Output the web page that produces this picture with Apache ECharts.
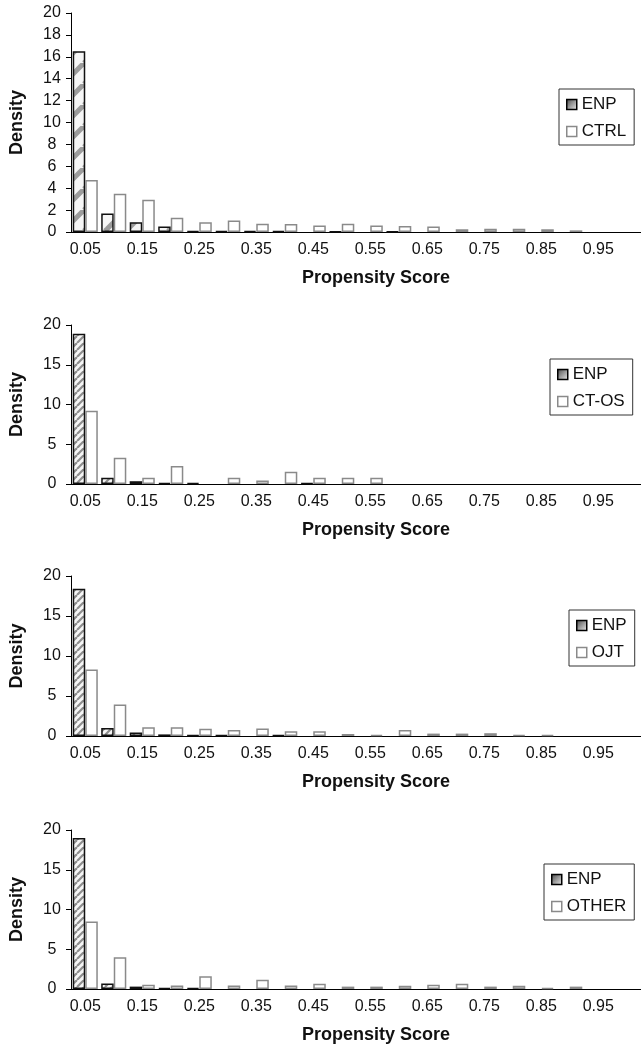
<!DOCTYPE html>
<html>
<head>
<meta charset="utf-8">
<script src="https://cdn.jsdelivr.net/npm/echarts@6/dist/echarts.min.js"></script>
<style>
    html, body { margin: 0; padding: 0; background: #fff; }
    #chart { width: 641px; height: 1046px; }
</style>
</head>
<body>
<div id="chart"></div>
<script>
// propensity score bins (only every other one gets a label)
const categories = ['0.05', '0.10', '0.15', '0.20', '0.25', '0.30', '0.35', '0.40', '0.45', '0.50',
    '0.55', '0.60', '0.65', '0.70', '0.75', '0.80', '0.85', '0.90', '0.95', '1.00']

// panel 1: ENP vs CTRL
const enpCtrl = [16.5, 1.7, 0.9, 0.5, 0.1, 0.1, 0.1, 0.1, 0, 0.05, 0, 0.05, 0, 0, 0, 0, 0, 0, 0, 0]
const ctrl = [4.75, 3.5, 2.95, 1.3, 0.9, 1.05, 0.75, 0.73, 0.6, 0.75, 0.6, 0.55, 0.5, 0.25, 0.3, 0.3, 0.25, 0.15, 0, 0]

// panel 2: ENP vs CT-OS
const enpCtos = [18.9, 0.8, 0.35, 0.15, 0.15, 0, 0, 0, 0.1, 0, 0, 0, 0, 0, 0, 0, 0, 0, 0, 0]
const ctos = [9.2, 3.3, 0.8, 2.25, 0, 0.8, 0.45, 1.55, 0.8, 0.8, 0.8, 0, 0, 0, 0, 0, 0, 0, 0, 0]

// panel 3: ENP vs OJT
const enpOjt = [18.4, 1.0, 0.45, 0.2, 0.1, 0.1, 0, 0.1, 0, 0, 0, 0, 0, 0, 0, 0, 0, 0, 0, 0]
const ojt = [8.3, 3.95, 1.1, 1.1, 0.9, 0.75, 0.95, 0.6, 0.6, 0.25, 0.15, 0.75, 0.3, 0.3, 0.35, 0.12, 0.12, 0, 0, 0]

// panel 4: ENP vs OTHER
const enpOther = [19.0, 0.7, 0.3, 0.15, 0.15, 0, 0, 0, 0, 0, 0, 0, 0, 0, 0, 0, 0, 0, 0, 0]
const other = [8.5, 4.0, 0.55, 0.45, 1.6, 0.45, 1.15, 0.45, 0.65, 0.3, 0.3, 0.4, 0.55, 0.65, 0.3, 0.4, 0.15, 0.3, 0, 0]

const yIntervals = [2, 5, 5, 5]

const font = '"Liberation Sans", Arial, sans-serif'
const textColor = '#111'

// diagonal hatch used for the ENP bars
function hatch(size, width, stripe) {
    const c = document.createElement('canvas')
    c.width = size
    c.height = size
    const ctx = c.getContext('2d')
    ctx.fillStyle = '#f6f6f6'
    ctx.fillRect(0, 0, size, size)
    ctx.strokeStyle = stripe
    ctx.lineWidth = width
    for (let k = -1; k <= 1; k++) {
        ctx.beginPath()
        ctx.moveTo(k * size, size)
        ctx.lineTo(k * size + size, 0)
        ctx.stroke()
    }
    return c
}

const panels = [
    { other: 'CTRL', enp: enpCtrl, vals: ctrl, left: 71, top: 13, height: 219, pattern: hatch(21, 5, '#9c9c9c'), legendPos: [559, 89] },
    { other: 'CT-OS', enp: enpCtos, vals: ctos, left: 71, top: 325, height: 159, pattern: hatch(7, 2.2, '#8e8e8e'), legendPos: [550, 359] },
    { other: 'OJT', enp: enpOjt, vals: ojt, left: 70, top: 576, height: 160, pattern: hatch(7, 2.2, '#8e8e8e'), legendPos: [569, 610] },
    { other: 'OTHER', enp: enpOther, vals: other, left: 68, top: 830, height: 159, pattern: hatch(7, 2.2, '#8e8e8e'), legendPos: [544, 864] }
]

const enpIcon = {
    color: {
        type: 'linear', x: 0, y: 0, x2: 1, y2: 1,
        colorStops: [{ offset: 0, color: '#444' }, { offset: 1, color: '#f0f0f0' }]
    },
    borderColor: '#000',
    borderWidth: 1.5
}
const otherIcon = { color: '#fff', borderColor: '#8a8a8a', borderWidth: 1.5 }

const grid = []
const xAxis = []
const yAxis = []
const legend = []
const series = []

panels.forEach((p, i) => {
    grid.push({ left: p.left, top: p.top, height: p.height, right: -3 })
    xAxis.push({
        type: 'category',
        gridIndex: i,
        data: categories,
        axisLine: { lineStyle: { color: '#000', width: 1 } },
        axisTick: { interval: 0, length: 5, lineStyle: { color: '#000' } },
        axisLabel: { interval: 1, fontSize: 16, color: textColor, fontFamily: font, margin: 10 },
        name: 'Propensity Score',
        nameLocation: 'middle',
        nameGap: 37,
        nameTextStyle: { fontWeight: 'bold', fontSize: 18, color: textColor, fontFamily: font, padding: [0, 0, 0, 40] }
    })
    yAxis.push({
        type: 'value',
        gridIndex: i,
        min: 0,
        max: 20,
        interval: yIntervals[i],
        splitLine: { show: false },
        axisLine: { show: true, lineStyle: { color: '#000', width: 1 } },
        axisTick: { show: true, length: 5, lineStyle: { color: '#000' } },
        axisLabel: { fontSize: 16, color: textColor, fontFamily: font, align: 'center', margin: 19 },
        name: 'Density',
        nameLocation: 'middle',
        nameGap: 45,
        nameTextStyle: { fontWeight: 'bold', fontSize: 18, color: textColor, fontFamily: font }
    })
    legend.push({
        left: p.legendPos[0],
        top: p.legendPos[1],
        orient: 'vertical',
        padding: [7, 8, 5, 7],
        itemGap: 10,
        itemWidth: 10,
        itemHeight: 10,
        icon: 'rect',
        borderColor: '#333',
        borderWidth: 1,
        backgroundColor: '#fff',
        selectedMode: false,
        textStyle: { fontSize: 17, color: textColor, fontFamily: font },
        data: [
            { name: 'ENP', itemStyle: enpIcon },
            { name: p.other, itemStyle: otherIcon }
        ]
    })
    series.push({
        type: 'bar',
        name: 'ENP',
        xAxisIndex: i,
        yAxisIndex: i,
        barGap: '0%',
        barCategoryGap: '12%',
        data: p.enp.map(v => v || null),
        itemStyle: {
            color: { image: p.pattern, repeat: 'repeat' },
            borderColor: '#111',
            borderWidth: 1.5
        }
    })
    series.push({
        type: 'bar',
        name: p.other,
        xAxisIndex: i,
        yAxisIndex: i,
        barGap: '0%',
        barCategoryGap: '12%',
        data: p.vals.map(v => v || null),
        itemStyle: { color: '#fff', borderColor: '#8a8a8a', borderWidth: 1.5 }
    })
})

const option = {
    animation: false,
    backgroundColor: '#fff',
    textStyle: { fontFamily: font },
    grid: grid,
    xAxis: xAxis,
    yAxis: yAxis,
    legend: legend,
    series: series
}

const myChart = echarts.init(document.getElementById('chart'))
myChart.setOption(option)
</script>
</body>
</html>
